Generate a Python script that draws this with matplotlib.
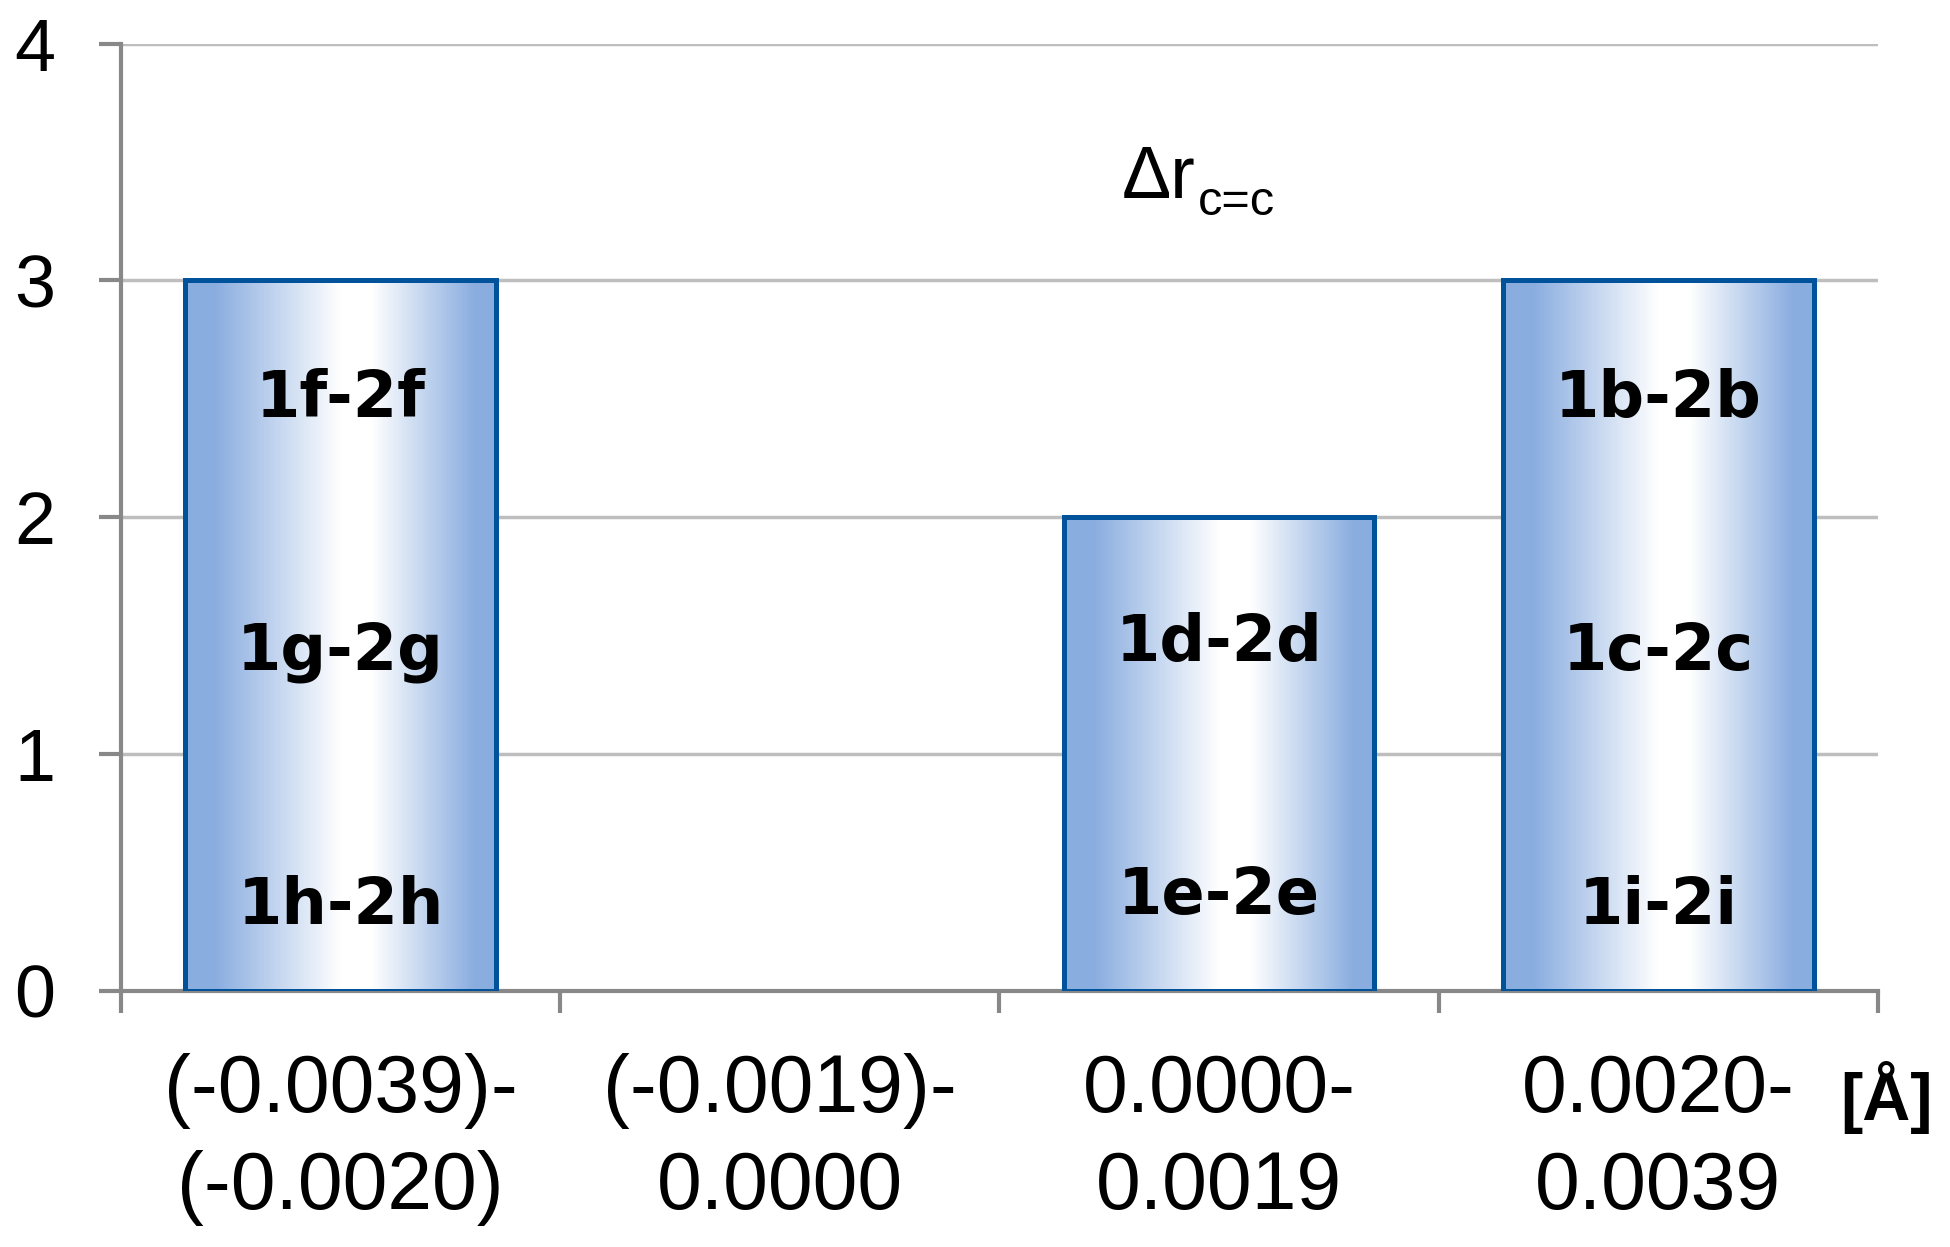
import numpy as np
import matplotlib
matplotlib.use("Agg")
import matplotlib.pyplot as plt
from matplotlib.colors import LinearSegmentedColormap

# data
categories = ["(-0.0039)-\n(-0.0020)", "(-0.0019)-\n0.0000", "0.0000-\n0.0019", "0.0020-\n0.0039"]
counts = [3, 0, 2, 3]
bar_labels = [["1h-2h", "1g-2g", "1f-2f"], [], ["1e-2e", "1d-2d"], ["1i-2i", "1c-2c", "1b-2b"]]
label_y = [[0.36, 1.43, 2.50], [], [0.40, 1.47], [0.36, 1.43, 2.50]]
y_ticks = [0, 1, 2, 3, 4]

plt.rcParams['font.family'] = ['Liberation Sans', 'DejaVu Sans']

fig = plt.figure(figsize=(19.5, 12.47), dpi=100)
ax = fig.add_axes([0.062, 0.2053, 0.901, 0.7597])

edge_blue = (0.545, 0.682, 0.878)
cmap = LinearSegmentedColormap.from_list("barfill", [
    (0.0, edge_blue), (0.1, edge_blue), (0.5, "white"), (0.6, "white"),
    (0.93, edge_blue), (1.0, edge_blue)])
grad = np.linspace(0, 1, 256).reshape(1, -1)

x = np.arange(len(categories))
width = 0.708
bars = ax.bar(x, counts, width=width, facecolor="none", edgecolor="#00529B",
              linewidth=3.6, zorder=4)
for b, c in zip(bars, counts):
    if c == 0:
        b.set_linewidth(0)
        continue
    im = ax.imshow(grad, cmap=cmap, aspect="auto", zorder=3,
                   extent=[b.get_x(), b.get_x() + b.get_width(), 0, b.get_height()])
    im.set_clip_path(b)

# labels inside the bars
for i in range(len(categories)):
    for txt, yy in zip(bar_labels[i], label_y[i]):
        ax.text(x[i], yy, txt, ha="center", va="center", fontsize=46,
                fontweight="bold", family="DejaVu Sans", zorder=5)

# delta r label with subscript
ax.text(1.779, 3.348, "Δr", fontsize=53, ha="left", va="baseline", zorder=5)
ax.text(1.952, 3.276, "c=c", fontsize=35, ha="left", va="baseline", zorder=5)

ax.set_xlim(-0.5, len(categories) - 0.5)
ax.set_ylim(0, 4)
ax.set_yticks(y_ticks)
ax.set_yticklabels([str(t) for t in y_ticks], fontsize=53)
ax.set_xticks(x)
ax.set_xticklabels(categories, fontsize=58, linespacing=1.35)
ax.set_xticks(np.arange(-0.5, len(categories), 1.0), minor=True)

ax.tick_params(axis="x", which="major", length=0, pad=45)
ax.tick_params(axis="x", which="minor", length=16, width=3, color="#888888")
ax.tick_params(axis="y", length=16, width=3, color="#888888", pad=31)

ax.grid(axis="y", color="#BEBEBE", linewidth=2.5, zorder=0)
ax.set_axisbelow(True)
for s in ["top", "right"]:
    ax.spines[s].set_visible(False)
for s in ["left", "bottom"]:
    ax.spines[s].set_color("#888888")
    ax.spines[s].set_linewidth(3)

fig.text(0.9435, 0.12, "[Å]", fontsize=48, fontweight="bold", ha="left", va="center")

fig.savefig("out.png", dpi=100)
